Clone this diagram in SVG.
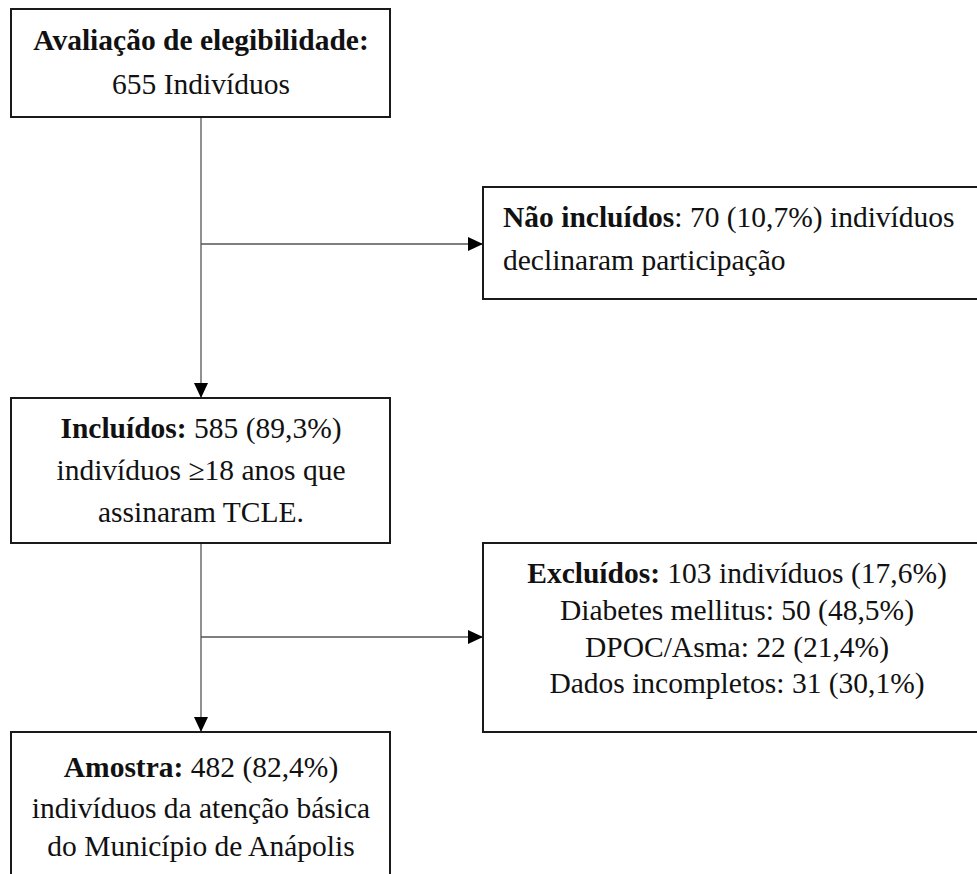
<svg xmlns="http://www.w3.org/2000/svg" width="977" height="874" viewBox="0 0 977 874">
<style>
.box{fill:#fff;stroke:#1a1a1a;stroke-width:2}
.t{font-family:"Liberation Serif","Times New Roman",serif;font-size:29.5px;fill:#111}
.c{text-anchor:middle}
.b{font-weight:bold}
.ln{stroke:#555;stroke-width:1.3;fill:none}
</style>
<defs>
<marker id="ah" markerUnits="userSpaceOnUse" markerWidth="16" markerHeight="16" refX="15" refY="7" orient="auto">
<path d="M0,0 L15,7 L0,14 Z" fill="#000"/>
</marker>
</defs>
<rect width="977" height="874" fill="#fff"/>
<g id="connectors">
<line class="ln" x1="201" y1="117" x2="201" y2="398" marker-end="url(#ah)"/>
<line class="ln" x1="201" y1="244" x2="483" y2="244" marker-end="url(#ah)"/>
<line class="ln" x1="201" y1="535" x2="201" y2="732" marker-end="url(#ah)"/>
<line class="ln" x1="201" y1="637" x2="483" y2="637" marker-end="url(#ah)"/>
</g>
<g id="n1">
<rect class="box" x="11" y="9" width="379" height="108"/>
<text class="t c" x="201" y="50"><tspan class="b">Avaliação de elegibilidade:</tspan></text>
<text class="t c" x="201" y="94">655 Indivíduos</text>
</g>
<g id="n2">
<rect class="box" x="483" y="187" width="510" height="112"/>
<text class="t" x="503" y="227"><tspan class="b">Não incluídos</tspan>: 70 (10,7%) indivíduos</text>
<text class="t" x="503" y="270">declinaram participação</text>
</g>
<g id="n3">
<rect class="box" x="11" y="398" width="379" height="145"/>
<text class="t c" x="201" y="438"><tspan class="b">Incluídos:</tspan> 585 (89,3%)</text>
<text class="t c" x="201" y="480">indivíduos ≥18 anos que</text>
<text class="t c" x="201" y="522">assinaram TCLE.</text>
</g>
<g id="n4">
<rect class="box" x="483" y="543" width="510" height="189"/>
<text class="t c" x="737" y="583"><tspan class="b">Excluídos:</tspan> 103 indivíduos (17,6%)</text>
<text class="t c" x="737" y="620">Diabetes mellitus: 50 (48,5%)</text>
<text class="t c" x="737" y="657">DPOC/Asma: 22 (21,4%)</text>
<text class="t c" x="737" y="693">Dados incompletos: 31 (30,1%)</text>
</g>
<g id="n5">
<rect class="box" x="11" y="732" width="379" height="160"/>
<text class="t c" x="201" y="777"><tspan class="b">Amostra:</tspan> 482 (82,4%)</text>
<text class="t c" x="201" y="818">indivíduos da atenção básica</text>
<text class="t c" x="201" y="856">do Município de Anápolis</text>
</g>
</svg>
